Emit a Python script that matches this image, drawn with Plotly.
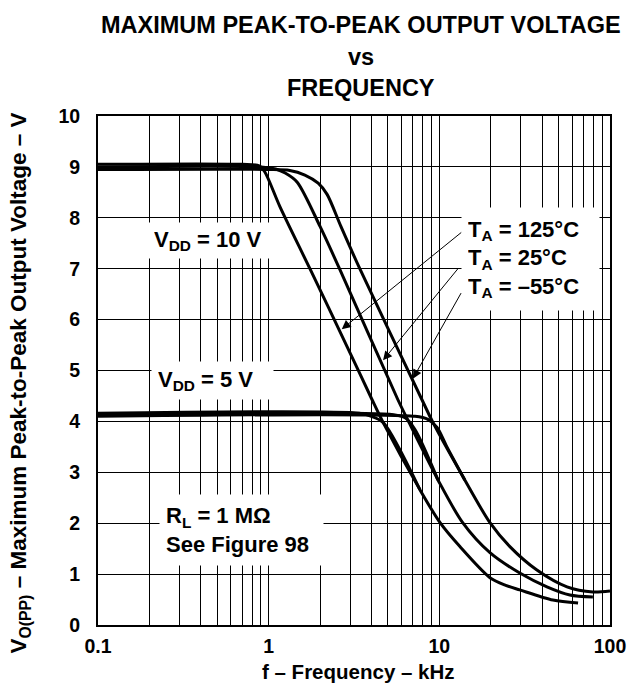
import numpy as np
import plotly.graph_objects as go

# frequency in kHz, voltage in V
f_10v_125 = [0.1, 0.7, 0.88, 0.95, 1.16, 1.75, 2.88, 4.03, 4.68, 7.69, 10.1, 13.2, 19.8, 24.5, 29.6, 46.3, 65]
v_10v_125 = [9.05, 9.05, 9.02, 8.9, 8.23, 6.99, 5.47, 4.43, 3.98, 2.66, 2.01, 1.54, 0.93, 0.78, 0.69, 0.49, 0.43]

f_10v_25 = [0.1, 0.9, 1.1, 1.25, 1.47, 2.0, 2.6, 5.71, 6.64, 9.82, 13.7, 19.8, 29.6, 42.7, 58.2, 79.4]
v_10v_25 = [9.0, 9.0, 8.96, 8.88, 8.70, 7.83, 7.0, 4.43, 3.98, 2.85, 2.01, 1.42, 1.02, 0.75, 0.59, 0.55]

f_10v_m55 = [0.1, 1.0, 1.33, 1.63, 1.95, 2.2, 2.65, 3.43, 7.9, 9.17, 14.1, 19.8, 25.9, 37.3, 56.0, 79.4, 100]
v_10v_m55 = [8.95, 8.95, 8.93, 8.84, 8.68, 8.46, 7.83, 6.99, 4.43, 3.98, 2.85, 2.01, 1.54, 1.08, 0.75, 0.65, 0.67]

f_5v_125 = [0.1, 3.4, 4.0, 4.68, 7.69]
v_5v_125 = [4.16, 4.16, 4.1, 3.98, 2.66]

f_5v_25 = [0.1, 5.4, 6.3, 7.2, 9.82]
v_5v_25 = [4.13, 4.13, 4.07, 3.84, 2.85]

f_5v_m55 = [0.1, 7.2, 8.57, 9.7, 11.0, 14.1]
v_5v_m55 = [4.10, 4.10, 4.04, 3.88, 3.52, 2.85]

x_ticks = [m * 10.0 ** e for e in (-1, 0, 1) for m in range(1, 10)] + [100]
x_labels = {0.1: '0.1', 1: '1', 10: '10', 100: '100'}
x_ticktext = [x_labels.get(round(t, 6), '') for t in x_ticks]

FONT = 'Liberation Sans, Arial, sans-serif'

fig = go.Figure()
for f, v in [(f_10v_125, v_10v_125), (f_10v_25, v_10v_25), (f_10v_m55, v_10v_m55),
             (f_5v_125, v_5v_125), (f_5v_25, v_5v_25), (f_5v_m55, v_5v_m55)]:
    fig.add_trace(go.Scatter(x=f, y=v, mode='lines', hoverinfo='skip', showlegend=False,
                             line=dict(color='black', width=3, shape='spline', smoothing=0.8)))

fig.update_layout(
    width=637, height=689,
    margin=dict(l=98, r=27, t=116, b=64),
    paper_bgcolor='white', plot_bgcolor='white',
    font=dict(family=FONT, size=20, color='black', weight='bold'),
    showlegend=False,
)
fig.update_xaxes(type='log', range=[-1, 2], tickvals=x_ticks, ticktext=x_ticktext,
                 showgrid=True, gridcolor='black', gridwidth=1, automargin=False,
                 showline=True, linecolor='black', linewidth=2, mirror=True,
                 ticks='', ticklabelstandoff=3, tickfont=dict(size=19.5))
fig.update_yaxes(range=[0, 10], tick0=0, dtick=1, zeroline=False, automargin=False,
                 showgrid=True, gridcolor='black', gridwidth=1,
                 showline=True, linecolor='black', linewidth=2, mirror=True,
                 ticks='', ticklabelstandoff=12, tickfont=dict(size=19.5))

ann = []
# titles
for txt, yy in [('MAXIMUM PEAK-TO-PEAK OUTPUT VOLTAGE', 1.178),
                ('vs', 1.115), ('FREQUENCY', 1.055)]:
    ann.append(dict(text=txt, x=0.514, y=yy, xref='paper', yref='paper', showarrow=False,
                    xanchor='center', yanchor='middle', font=dict(size=23.5)))
ann.append(dict(text='f – Frequency – kHz', x=0.508, y=-0.092, xref='paper', yref='paper',
                showarrow=False, xanchor='center', yanchor='middle', font=dict(size=20.5)))
ann.append(dict(text='V<sub>O(PP)</sub> – Maximum Peak-to-Peak Output Voltage – V',
                x=-0.152, y=0.475, xref='paper', yref='paper', textangle=-90,
                showarrow=False, xanchor='center', yanchor='middle', font=dict(size=22.5)))

# labels in white boxes: text, f centre, V centre, box width, box height
boxes = [
    ('V<sub>DD</sub> = 10 V', 0.453, 7.56, 112, 23),
    ('V<sub>DD</sub> = 5 V', 0.466, 4.80, 109, 25),
    ('R<sub>L</sub> = 1 MΩ<br>See Figure 98', 0.689, 1.87, 151, 58),
    ('T<sub>A</sub> = 125°C<br>T<sub>A</sub> = 25°C<br>T<sub>A</sub> = –55°C', 34.4, 7.2, 125, 90),
]
for txt, fx, vy, w, h in boxes:
    ann.append(dict(text=txt, x=np.log10(fx), y=vy, xref='x', yref='y', showarrow=False,
                    xanchor='center', yanchor='middle', align='left', width=w, height=h,
                    bgcolor='white', borderpad=6, font=dict(size=22)))

# arrows from temperature labels
arrows = [(2.68, 5.81, 121, -98), (4.68, 5.2, 76, -93), (7.0, 4.84, 49, -87)]
for fx, vy, dx, dy in arrows:
    ann.append(dict(text='', x=np.log10(fx), y=vy, xref='x', yref='y', showarrow=True,
                    ax=dx, ay=dy, arrowhead=2, arrowsize=1.8, arrowwidth=1, arrowcolor='black'))

fig.update_layout(annotations=ann)
fig.write_html('out.html', config={'displayModeBar': False},
               post_script="document.body.style.margin='0px';"
                           "document.documentElement.style.overflow='hidden';")
